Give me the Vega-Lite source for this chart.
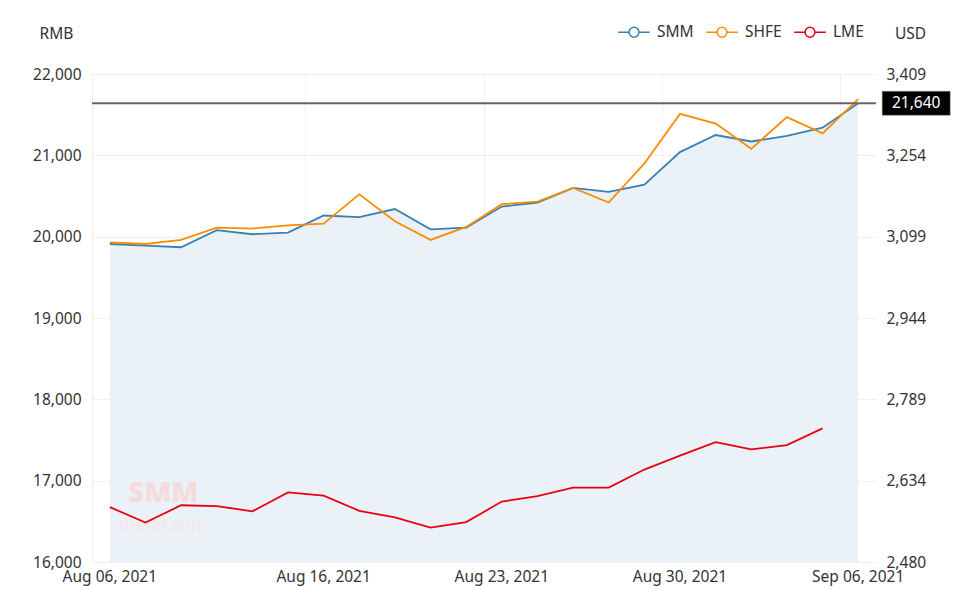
{
  "$schema": "https://vega.github.io/schema/vega-lite/v6.json",
  "width": 784,
  "height": 488,
  "autosize": {"type": "none"},
  "padding": {"left": 92, "top": 74, "right": 94, "bottom": 28},
  "background": "white",
  "config": {
    "font": "Noto Sans",
    "view": {"stroke": null},
    "axis": {"labelFontSize": 15.5, "labelColor": "#333", "gridColor": "#efefef", "titleFontSize": 15.5, "titleFontWeight": "normal", "titleColor": "#333", "domain": false, "ticks": false}
  },
  "data": {"values": [
    {"date": "Aug 06, 2021", "SMM": 19910, "SHFE": 19930, "LME": 2584.5},
    {"date": "Aug 09, 2021", "SMM": 19890, "SHFE": 19910, "LME": 2555},
    {"date": "Aug 10, 2021", "SMM": 19870, "SHFE": 19960, "LME": 2588},
    {"date": "Aug 11, 2021", "SMM": 20080, "SHFE": 20110, "LME": 2586.5},
    {"date": "Aug 12, 2021", "SMM": 20030, "SHFE": 20100, "LME": 2576.5},
    {"date": "Aug 13, 2021", "SMM": 20050, "SHFE": 20140, "LME": 2612.5},
    {"date": "Aug 16, 2021", "SMM": 20260, "SHFE": 20160, "LME": 2606.5},
    {"date": "Aug 17, 2021", "SMM": 20240, "SHFE": 20520, "LME": 2577.5},
    {"date": "Aug 18, 2021", "SMM": 20340, "SHFE": 20190, "LME": 2565},
    {"date": "Aug 19, 2021", "SMM": 20090, "SHFE": 19960, "LME": 2545.5},
    {"date": "Aug 20, 2021", "SMM": 20110, "SHFE": 20120, "LME": 2556},
    {"date": "Aug 23, 2021", "SMM": 20370, "SHFE": 20400, "LME": 2595},
    {"date": "Aug 24, 2021", "SMM": 20420, "SHFE": 20430, "LME": 2605.5},
    {"date": "Aug 25, 2021", "SMM": 20600, "SHFE": 20600, "LME": 2621.5},
    {"date": "Aug 26, 2021", "SMM": 20550, "SHFE": 20420, "LME": 2621.5},
    {"date": "Aug 27, 2021", "SMM": 20640, "SHFE": 20900, "LME": 2656},
    {"date": "Aug 30, 2021", "SMM": 21040, "SHFE": 21510, "LME": 2682.5},
    {"date": "Aug 31, 2021", "SMM": 21250, "SHFE": 21390, "LME": 2708},
    {"date": "Sep 01, 2021", "SMM": 21170, "SHFE": 21080, "LME": 2694.5},
    {"date": "Sep 02, 2021", "SMM": 21240, "SHFE": 21470, "LME": 2702.5},
    {"date": "Sep 03, 2021", "SMM": 21340, "SHFE": 21270, "LME": 2734.5},
    {"date": "Sep 06, 2021", "SMM": 21640, "SHFE": 21690, "LME": null}
  ]},
  "layer": [
    {
      "layer": [
        {
          "mark": {"type": "area", "color": "#eaf2f7", "opacity": 1},
          "encoding": {
            "x": {"field": "date", "type": "ordinal", "sort": null, "bandPosition": 0.5,
              "scale": {"type": "band", "paddingInner": 0, "paddingOuter": 0},
              "axis": {"values": ["Aug 06, 2021", "Aug 16, 2021", "Aug 23, 2021", "Aug 30, 2021", "Sep 06, 2021"], "bandPosition": 0, "labelOffset": 0, "labelAngle": 0, "grid": true, "title": null, "labelPadding": 7}},
            "y": {"field": "SMM", "type": "quantitative",
              "scale": {"domain": [16000, 22000], "nice": false, "zero": false},
              "axis": {"values": [16000, 17000, 18000, 19000, 20000, 21000, 22000], "labelExpr": "format(datum.value, ',')", "grid": true, "labelPadding": 11, "title": "RMB", "titleAngle": 0, "titleAlign": "center", "titleBaseline": "middle", "titleX": -36, "titleY": -41}},
            "y2": {"datum": 16000}
          }
        },
        {
          "transform": [{"filter": "datum.date === 'Aug 10, 2021'"}],
          "mark": {"type": "text", "text": "SMM", "fontSize": 28, "fontWeight": 900, "color": "#f4dcdc", "align": "center", "baseline": "middle"},
          "encoding": {
            "x": {"field": "date", "type": "ordinal", "sort": null, "bandPosition": 0, "scale": {"type": "band", "paddingInner": 0, "paddingOuter": 0}},
            "y": {"datum": 16830, "type": "quantitative", "scale": {"domain": [16000, 22000], "nice": false, "zero": false}}
          }
        },
        {
          "transform": [{"filter": "datum.date === 'Aug 10, 2021'"}],
          "mark": {"type": "text", "text": "metal.com", "fontSize": 18, "color": "#f6e6e6", "align": "center", "baseline": "middle"},
          "encoding": {
            "x": {"field": "date", "type": "ordinal", "sort": null, "bandPosition": 0, "scale": {"type": "band", "paddingInner": 0, "paddingOuter": 0}},
            "y": {"datum": 16440, "type": "quantitative", "scale": {"domain": [16000, 22000], "nice": false, "zero": false}}
          }
        },
        {
          "transform": [{"fold": ["SMM", "SHFE"], "as": ["series", "price"]}],
          "mark": {"type": "line", "strokeWidth": 1.8},
          "encoding": {
            "x": {"field": "date", "type": "ordinal", "sort": null, "bandPosition": 0.5, "scale": {"type": "band", "paddingInner": 0, "paddingOuter": 0}},
            "y": {"field": "price", "type": "quantitative", "scale": {"domain": [16000, 22000], "nice": false, "zero": false}},
            "color": {"field": "series", "type": "nominal",
              "scale": {"domain": ["SMM", "SHFE", "LME"], "range": ["#3a80b4", "#fb8c00", "#e60012"]},
              "legend": {"orient": "none", "legendX": 525, "legendY": -59, "direction": "horizontal", "title": null,
                "symbolType": "M-1,0L-0.31,0M0.31,0L1,0M0.31,0A0.31,0.31,0,1,1,-0.31,0A0.31,0.31,0,1,1,0.31,0Z",
                "symbolSize": 1000, "symbolStrokeWidth": 1.5, "labelFontSize": 15.5, "labelColor": "#333", "labelOffset": 6, "columnPadding": 9, "padding": 0,
                "encode": {"symbols": {"update": {"fill": {"value": "white"}}}}}}
          }
        },
        {
          "transform": [{"filter": "datum.date === 'Sep 06, 2021'"}],
          "mark": {"type": "rule", "color": "#666", "strokeWidth": 2},
          "encoding": {
            "y": {"field": "SMM", "type": "quantitative", "scale": {"domain": [16000, 22000], "nice": false, "zero": false}}
          }
        },
        {
          "transform": [{"filter": "datum.date === 'Sep 06, 2021'"}],
          "mark": {"type": "rect", "color": "#000", "width": 68, "height": 24, "xOffset": 58, "stroke": "#888", "strokeWidth": 0.5},
          "encoding": {
            "x": {"field": "date", "type": "ordinal", "sort": null, "scale": {"type": "band", "paddingInner": 0, "paddingOuter": 0}},
            "y": {"field": "SMM", "type": "quantitative", "scale": {"domain": [16000, 22000], "nice": false, "zero": false}}
          }
        },
        {
          "transform": [{"filter": "datum.date === 'Sep 06, 2021'"}],
          "mark": {"type": "text", "color": "white", "fontSize": 15.5, "xOffset": 58, "align": "center", "baseline": "middle"},
          "encoding": {
            "x": {"field": "date", "type": "ordinal", "sort": null, "bandPosition": 0.5, "scale": {"type": "band", "paddingInner": 0, "paddingOuter": 0}},
            "y": {"field": "SMM", "type": "quantitative", "scale": {"domain": [16000, 22000], "nice": false, "zero": false}},
            "text": {"field": "SMM", "type": "quantitative", "format": ","}
          }
        }
      ]
    },
    {
      "mark": {"type": "line", "strokeWidth": 1.8},
      "encoding": {
        "x": {"field": "date", "type": "ordinal", "sort": null, "bandPosition": 0.5, "scale": {"type": "band", "paddingInner": 0, "paddingOuter": 0}},
        "y": {"field": "LME", "type": "quantitative",
          "scale": {"domain": [2480, 3409], "nice": false, "zero": false},
          "axis": {"orient": "right", "values": [2480, 2634.833, 2789.667, 2944.5, 3099.333, 3254.167, 3409], "labelExpr": "format(floor(datum.value + 0.001), ',')", "grid": false, "labelPadding": 10, "title": "USD", "titleAngle": 0, "titleAlign": "center", "titleBaseline": "middle", "titleX": 34, "titleY": -41}},
        "color": {"datum": "LME", "legend": null}
      }
    }
  ],
  "resolve": {"scale": {"y": "independent"}, "axis": {"y": "independent"}}
}
